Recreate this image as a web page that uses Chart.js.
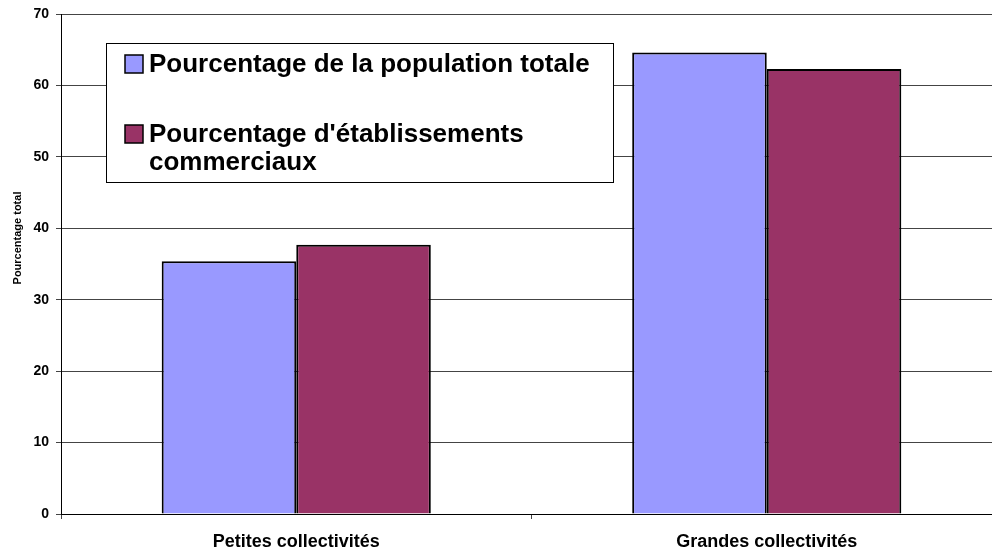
<!DOCTYPE html>
<html>
<head>
<meta charset="utf-8">
<script src="https://cdn.jsdelivr.net/npm/chart.js@4.4.1/dist/chart.umd.min.js"></script>
<style>
  html, body { margin: 0; padding: 0; background: #fff; overflow: hidden; }
  #wrap { position: absolute; left: 0; top: 0; width: 1002px; height: 550px; }
</style>
</head>
<body>
<div id="wrap"><canvas id="chart"></canvas></div>
<script>
// données
const categories = ['Petites collectivités', 'Grandes collectivités'];
const seriesNames = ['Pourcentage de la population totale', "Pourcentage d'établissements commerciaux"];
const populationValues = [35.4, 64.6];
const commerceValues = [37.7, 62.3];
const seriesColors = ['#9999FF', '#993366'];
const yMin = 0, yMax = 70, yStep = 10;
const yTitle = 'Pourcentage total';

const FONT = "'Liberation Sans', Arial, sans-serif";

// Légende encadrée + titre vertical (dessinés à la main)
const boxLegend = {
    id: 'boxLegend',
    afterDraw(chart) {
        const ctx = chart.ctx;
        ctx.save();

        // titre de l'axe Y
        ctx.font = 'bold 11px ' + FONT;
        ctx.fillStyle = '#000';
        ctx.textAlign = 'center';
        ctx.textBaseline = 'middle';
        ctx.translate(18, 238);
        ctx.rotate(-Math.PI / 2);
        ctx.fillText(yTitle, 0, 0);
        ctx.setTransform(1, 0, 0, 1, 0, 0);

        // cadre
        ctx.fillStyle = '#fff';
        ctx.fillRect(106, 43, 507, 139);
        ctx.strokeStyle = '#000';
        ctx.lineWidth = 1;
        ctx.strokeRect(106.5, 43.5, 507, 139);

        ctx.font = 'bold 26px ' + FONT;
        ctx.textAlign = 'left';
        ctx.textBaseline = 'alphabetic';
        let baseY = 72;
        seriesNames.forEach((name, i) => {
            // découpage en lignes
            const words = name.split(' ');
            const lines = [];
            let cur = '';
            words.forEach(w => {
                const test = cur ? cur + ' ' + w : w;
                if (ctx.measureText(test).width > 455 && cur) {
                    lines.push(cur);
                    cur = w;
                } else {
                    cur = test;
                }
            });
            lines.push(cur);

            ctx.fillStyle = seriesColors[i];
            ctx.fillRect(125, baseY - 17, 18, 18);
            ctx.strokeStyle = '#000';
            ctx.lineWidth = 1.5;
            ctx.strokeRect(125, baseY - 17, 18, 18);

            ctx.fillStyle = '#000';
            lines.forEach((ln, j) => {
                ctx.fillText(ln, 149, baseY + j * 28);
            });
            baseY += 70;
        });
        ctx.restore();
    }
};

new Chart(document.getElementById('chart'), {
    type: 'bar',
    data: {
        labels: categories,
        datasets: [
            {
                label: seriesNames[0],
                data: populationValues,
                backgroundColor: seriesColors[0],
                borderColor: '#000',
                borderWidth: 2
            },
            {
                label: seriesNames[1],
                data: commerceValues,
                backgroundColor: seriesColors[1],
                borderColor: '#000',
                borderWidth: 2
            }
        ]
    },
    options: {
        responsive: true,
        maintainAspectRatio: false,
        animation: false,
        categoryPercentage: 0.572,
        barPercentage: 1,
        layout: { padding: { top: 6, left: 0, right: 0, bottom: 0 } },
        plugins: {
            legend: { display: false },
            tooltip: { enabled: false }
        },
        scales: {
            x: {
                offset: true,
                grid: {
                    offset: true,
                    drawOnChartArea: false,
                    drawTicks: true,
                    tickLength: 5,
                    color: '#444'
                },
                border: { color: '#000', width: 1 },
                ticks: {
                    color: '#000',
                    padding: 12,
                    font: { family: FONT, size: 18, weight: 'bold' }
                },
                afterFit(scale) { scale.height = 36; }
            },
            y: {
                min: yMin,
                max: yMax,
                ticks: {
                    stepSize: yStep,
                    color: '#000',
                    padding: 7,
                    font: { family: FONT, size: 14, weight: 'bold', lineHeight: 1 }
                },
                grid: {
                    color: '#444',
                    tickLength: 5,
                    drawTicks: true
                },
                border: { color: '#000', width: 1 },
                afterFit(scale) { scale.width = 61; }
            }
        }
    },
    plugins: [boxLegend]
});
</script>
</body>
</html>
